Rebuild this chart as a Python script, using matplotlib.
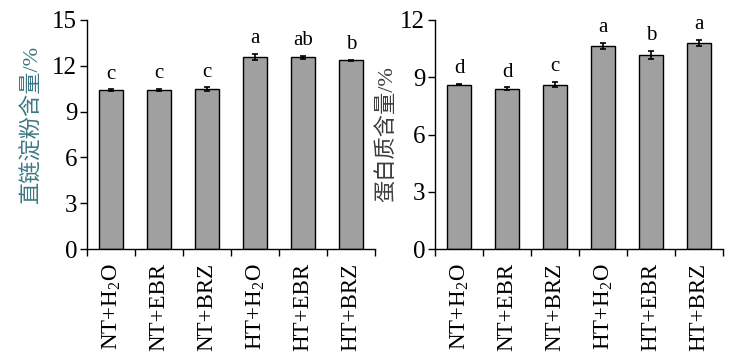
import numpy as np
import matplotlib
matplotlib.use("Agg")
import matplotlib.pyplot as plt

plt.rcParams["font.family"] = ["Liberation Serif", "Noto Sans CJK SC"]
plt.rcParams["mathtext.fontset"] = "stix"

# --- data ---
groups = ["NT+H$_\\mathregular{2}$O", "NT+EBR", "NT+BRZ",
          "HT+H$_\\mathregular{2}$O", "HT+EBR", "HT+BRZ"]

amylose = [10.40, 10.43, 10.48, 12.60, 12.55, 12.35]
amylose_err = [0.07, 0.07, 0.12, 0.20, 0.12, 0.06]
amylose_sig = ["c", "c", "c", "a", "ab", "b"]

protein = [8.62, 8.40, 8.62, 10.65, 10.18, 10.80]
protein_err = [0.05, 0.07, 0.15, 0.17, 0.20, 0.15]
protein_sig = ["d", "d", "c", "a", "b", "a"]

W, H = 732, 354
fig = plt.figure(figsize=(W / 100, H / 100), dpi=100)

ax1 = fig.add_axes([87 / W, 1 - 249 / H, 288 / W, 229 / H])
ax2 = fig.add_axes([435 / W, 1 - 249 / H, 288 / W, 229 / H])

panels = [
    (ax1, amylose, amylose_err, amylose_sig, 15, "直链淀粉含量/%", "#3a7884", (-0.153, 0.544)),
    (ax2, protein, protein_err, protein_sig, 12, "蛋白质含量/%", "#3c3c3c", (-0.128, 0.502)),
]

x = np.arange(len(groups))
for ax, vals, errs, sig, ymax, ylabel, lcolor, lpos in panels:
    ax.bar(x, vals, width=0.52, color="#a0a0a0", edgecolor="black", linewidth=1.0,
           yerr=errs, capsize=2.5, error_kw=dict(ecolor="black", elinewidth=1.2, capthick=1.2),
           zorder=2)
    for xi, v, e, s in zip(x, vals, errs, sig):
        ax.annotate(s, (xi, v + e), xytext=(0, 4), textcoords="offset points",
                    ha="center", va="bottom", fontsize=15)

    ax.set_xlim(-0.5, len(groups) - 0.5)
    ax.set_ylim(0, ymax)
    ax.set_yticks(np.arange(0, ymax + 0.1, 3))
    ax.tick_params(axis="y", direction="out", length=5, width=1, labelsize=18, pad=2)

    # category labels at bar centres, tick marks at boundaries
    ax.set_xticks(x)
    ax.set_xticklabels(groups, rotation=90, fontsize=16.5)
    ax.tick_params(axis="x", which="major", length=0, pad=10)
    ax.set_xticks(np.arange(-0.5, len(groups)), minor=True)
    ax.tick_params(axis="x", which="minor", direction="out", length=5, width=1)

    ax.spines["top"].set_visible(False)
    ax.spines["right"].set_visible(False)
    for sp in ("left", "bottom"):
        ax.spines[sp].set_linewidth(1.0)

    ax.set_ylabel(ylabel, fontsize=16, color=lcolor)
    ax.yaxis.set_label_coords(*lpos)

fig.savefig("out.png", dpi=100)
